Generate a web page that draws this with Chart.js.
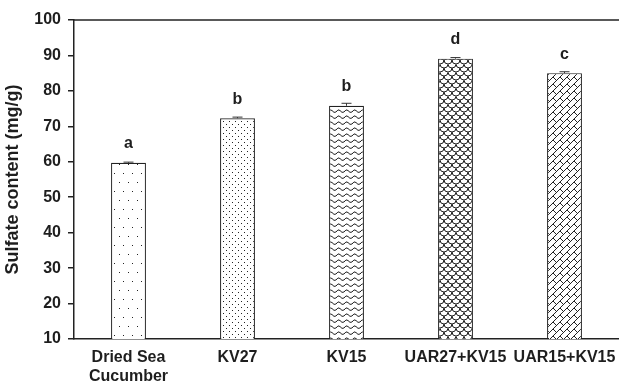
<!DOCTYPE html>
<html>
<head>
<meta charset="utf-8">
<script src="https://cdn.jsdelivr.net/npm/chart.js@4"></script>
<style>
  html, body { margin: 0; padding: 0; background: #fff; }
  #wrap { width: 619px; height: 382px; }
</style>
</head>
<body>
<div id="wrap"><canvas id="chart"></canvas></div>
<script>
// data
const categories = [['Dried Sea', 'Cucumber'], 'KV27', 'KV15', 'UAR27+KV15', 'UAR15+KV15'];
const sulfate = [59.7, 72.3, 75.8, 89.1, 85.0];
const sulfateErr = [0.2, 0.3, 0.7, 0.3, 0.4];
const sigLetters = ['a', 'b', 'b', 'd', 'c'];
const yTicks = [10, 20, 30, 40, 50, 60, 70, 80, 90, 100];

const FONT = 'Arial, "Liberation Sans", sans-serif';
const INK = '#1e1e1e';

// hatch fills
function tile(w, h, draw) {
    const c = document.createElement('canvas');
    c.width = w;
    c.height = h;
    const ctx = c.getContext('2d');
    ctx.fillStyle = '#fff';
    ctx.fillRect(0, 0, w, h);
    ctx.fillStyle = '#222';
    ctx.strokeStyle = '#222';
    ctx.lineWidth = 1;
    draw(ctx, w, h);
    return ctx.createPattern(c, 'repeat');
}

// draw a segment plus its wrapped copies so the tile repeats cleanly
function wrapSeg(ctx, n, x1, y1, x2, y2) {
    for (let dx = -n; dx <= n; dx += n) {
        for (let dy = -n; dy <= n; dy += n) {
            ctx.moveTo(x1 + dx, y1 + dy);
            ctx.lineTo(x2 + dx, y2 + dy);
        }
    }
}

const sparseDots = tile(9, 18, ctx => {
    ctx.fillRect(2, 2, 1, 1);
    ctx.fillRect(6, 11, 1, 1);
});

const denseDots = tile(6, 6, ctx => {
    ctx.fillRect(1, 1, 1, 1);
    ctx.fillRect(4, 4, 1, 1);
});

const waves = tile(8, 6, ctx => {
    ctx.beginPath();
    ctx.moveTo(0, 4);
    ctx.quadraticCurveTo(2, 0.5, 4, 2.5);
    ctx.quadraticCurveTo(6, 5.5, 8, 4);
    ctx.stroke();
});

const scales = tile(8, 8, ctx => {
    ctx.beginPath();
    ctx.arc(4, 0, 4, 0, Math.PI);
    ctx.stroke();
    ctx.beginPath();
    ctx.arc(0, 4, 4, 0, Math.PI);
    ctx.stroke();
    ctx.beginPath();
    ctx.arc(8, 4, 4, 0, Math.PI);
    ctx.stroke();
    ctx.beginPath();
    ctx.arc(4, 8, 4, 0, Math.PI);
    ctx.stroke();
});

const bricks = tile(14, 14, ctx => {
    const n = 14;
    ctx.beginPath();
    // "/" lines where x + y is a multiple of 7
    [0, 7, 14, 21, 28].forEach(s => {
        wrapSeg(ctx, n, 0, s, s, 0);
    });
    // "\" ends of each brick, staggered band to band
    const bands = [[0, 7, [0, 14]], [7, 14, [7, 21]], [14, 21, [0, 14]], [21, 28, [7, 21]]];
    bands.forEach(([s1, s2, cs]) => {
        cs.forEach(c => {
            wrapSeg(ctx, n, (s1 + c) / 2, (s1 - c) / 2, (s2 + c) / 2, (s2 - c) / 2);
        });
    });
    ctx.stroke();
});

const fills = [sparseDots, denseDots, waves, scales, bricks];

// error bars, letters and top frame line
const extras = {
    id: 'extras',
    afterDatasetsDraw(chart) {
        const ctx = chart.ctx;
        const y = chart.scales.y;
        const meta = chart.getDatasetMeta(0);
        const area = chart.chartArea;
        ctx.save();
        ctx.strokeStyle = '#333';
        ctx.lineWidth = 1;
        meta.data.forEach((bar, i) => {
            const top = y.getPixelForValue(sulfate[i] + sulfateErr[i]);
            const base = y.getPixelForValue(sulfate[i]);
            ctx.beginPath();
            ctx.moveTo(bar.x, base);
            ctx.lineTo(bar.x, top);
            ctx.moveTo(bar.x - 5, top);
            ctx.lineTo(bar.x + 5, top);
            ctx.stroke();
        });
        ctx.fillStyle = INK;
        ctx.font = 'bold 16px ' + FONT;
        ctx.textAlign = 'center';
        ctx.textBaseline = 'middle';
        meta.data.forEach((bar, i) => {
            ctx.fillText(sigLetters[i], bar.x, y.getPixelForValue(sulfate[i]) - 19);
        });
        ctx.strokeStyle = '#222';
        ctx.lineWidth = 1.5;
        ctx.beginPath();
        ctx.moveTo(area.left, area.top);
        ctx.lineTo(area.right, area.top);
        ctx.stroke();
        ctx.restore();
    }
};

new Chart(document.getElementById('chart'), {
    type: 'bar',
    data: {
        labels: categories,
        datasets: [{
            label: 'Sulfate content',
            data: sulfate,
            backgroundColor: fills,
            borderColor: '#222',
            borderWidth: 1.2,
            borderSkipped: 'bottom',
            barPercentage: 0.32,
            categoryPercentage: 1
        }]
    },
    options: {
        responsive: true,
        maintainAspectRatio: false,
        animation: false,
        devicePixelRatio: 1,
        layout: {
            padding: { top: 20, right: 0, bottom: 0, left: 0 }
        },
        plugins: {
            legend: { display: false },
            tooltip: { enabled: false }
        },
        scales: {
            x: {
                offset: true,
                grid: { display: false, drawTicks: false },
                border: { display: true, color: '#222', width: 1.5 },
                ticks: {
                    color: INK,
                    font: { family: FONT, size: 16, weight: 'bold' },
                    padding: 9,
                    maxRotation: 0,
                    autoSkip: false
                },
                afterFit(scale) {
                    scale.height = 43;
                    scale.paddingLeft = 0;
                    scale.paddingRight = 0;
                }
            },
            y: {
                min: 10,
                max: 100,
                afterBuildTicks(scale) {
                    scale.ticks = yTicks.map(v => ({ value: v }));
                },
                grid: {
                    drawOnChartArea: false,
                    drawTicks: true,
                    tickLength: 6,
                    color: '#222',
                    lineWidth: 1.5
                },
                border: { display: true, color: '#222', width: 1.5 },
                ticks: {
                    color: INK,
                    font: { family: FONT, size: 16, weight: 'bold' },
                    padding: 7
                },
                title: {
                    display: true,
                    text: 'Sulfate content (mg/g)',
                    color: INK,
                    font: { family: FONT, size: 18, weight: 'bold' },
                    padding: { top: 2, bottom: 0 }
                },
                afterFit(scale) { scale.width = 74; }
            }
        }
    },
    plugins: [extras]
});
</script>
</body>
</html>
